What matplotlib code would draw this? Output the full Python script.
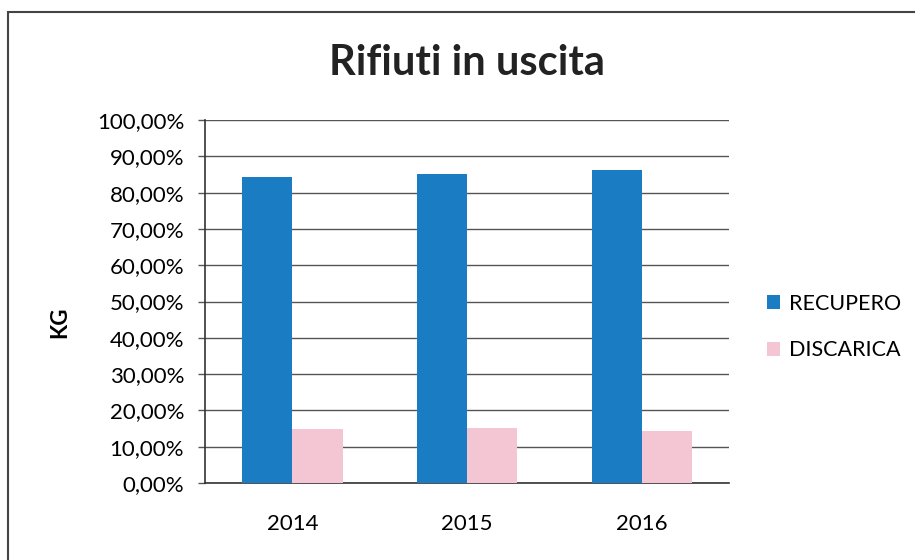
# bar chart of waste output shares (recupero vs discarica) per year

import matplotlib.pyplot as plt
import matplotlib.patches as patches
import numpy as np
from matplotlib.ticker import FuncFormatter

years = ['2014', '2015', '2016']
recupero = [84.4, 85.1, 86.3]
discarica = [14.9, 15.2, 14.4]
yticks = np.arange(0, 101, 10)

plt.rcParams['font.family'] = ['Lato', 'DejaVu Sans']

fig = plt.figure(figsize=(9.15, 5.6), dpi=100)
ax = fig.add_axes([0.224, 0.1375, 0.573, 0.648])

x = np.arange(len(years))
w = 0.287
ax.bar(x - w/2, recupero, w, color='#1a7dc4', label='RECUPERO', zorder=3)
ax.bar(x + w/2, discarica, w, color='#f4c6d4', label='DISCARICA', zorder=3)

ax.set_xlim(-0.5, 2.5)
ax.set_ylim(0, 100)
ax.set_yticks(yticks)
ax.yaxis.set_major_formatter(FuncFormatter(lambda v, p: f'{v:.2f}%'.replace('.', ',')))
ax.set_xticks(x)
ax.set_xticklabels(years)
ax.tick_params(axis='y', labelsize=16, length=5, width=1, color='#555555', pad=10)
ax.tick_params(axis='x', labelsize=16, length=0, pad=22)
ax.grid(axis='y', color='#555555', linewidth=1, zorder=0)
for s in ['top', 'right']:
    ax.spines[s].set_visible(False)
for s in ['left', 'bottom']:
    ax.spines[s].set_color('#333333')
    ax.spines[s].set_linewidth(1.2)

fig.text(0.51, 0.888, 'Rifiuti in uscita', ha='center', va='center', fontsize=30, fontweight='bold', color='#222222')
fig.text(60/915, 1 - 322/560, 'KG', rotation=90, ha='center', va='center', fontsize=16, fontweight='bold')

ax.legend(loc='center left', bbox_to_anchor=(1.035, 0.43), frameon=False, fontsize=15.5,
          handlelength=0.6, handleheight=0.6, handletextpad=0.4, labelspacing=1.25)

fig.patches.append(patches.Rectangle((8/915, -0.1), 1.2, 1 - 12/560 + 0.1, transform=fig.transFigure,
                                     fill=False, edgecolor='#444444', linewidth=1.5))

fig.savefig('out.png', dpi=100)
